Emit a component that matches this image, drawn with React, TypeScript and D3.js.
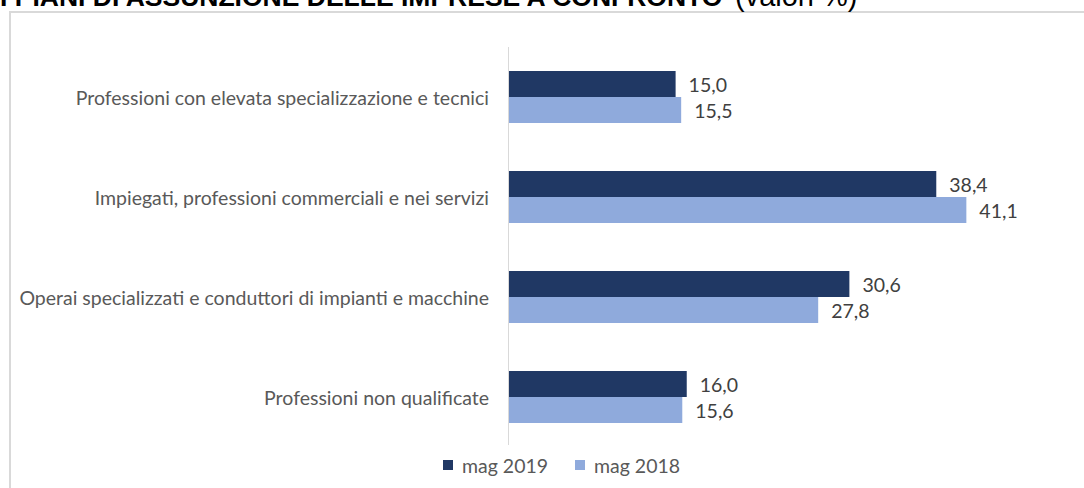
import React from "react";
import * as d3 from "d3";

const categories = [
  "Professioni con elevata specializzazione e tecnici",
  "Impiegati, professioni commerciali e nei servizi",
  "Operai specializzati e conduttori di impianti e macchine",
  "Professioni non qualificate",
];
const seriesNames = ["mag 2019", "mag 2018"];
const values2019 = [15.0, 38.4, 30.6, 16.0];
const values2018 = [15.5, 41.1, 27.8, 15.6];
const colors = ["#203864", "#8faadc"];

const W = 1084;
const H = 488;
const FONT = "Lato, 'Open Sans', sans-serif";
const FS = 19.5;

export default function App() {
  const x = d3.scaleLinear().domain([0, 50]).range([508.5, 508.5 + 557]);
  const y = d3
    .scaleBand<string>()
    .domain(categories)
    .range([47, 447])
    .paddingInner(0.48)
    .paddingOuter(0.24);
  const inner = d3.scaleBand<string>().domain(seriesNames).range([0, y.bandwidth()]);
  const series = [values2019, values2018];
  const fmt = (v: number) => d3.format(".1f")(v).replace(".", ",");

  return (
    <div style={{ position: "fixed", left: 0, top: 0, width: W, height: H, background: "#fff" }}>
      <svg width={W} height={H} style={{ display: "block" }}>
        <rect x={0} y={0} width={W} height={H} fill="#fff" />
        <path d={`M10,${H + 10} V12 H${W + 10}`} fill="none" stroke="#d9d9d9" strokeWidth={2} />
        <text x={0} y={6} fontFamily="'Liberation Sans', Arial, sans-serif" fill="#000">
          <tspan fontWeight="bold" fontSize={26.5}>I PIANI DI ASSUNZIONE DELLE IMPRESE A CONFRONTO</tspan>
          <tspan x={735} fontSize={29}>(valori %)</tspan>
        </text>
        {categories.map((c, i) => (
          <g key={c}>
            <text
              x={489}
              y={(y(c) as number) + y.bandwidth() / 2}
              textAnchor="end"
              dominantBaseline="central"
              fontFamily={FONT}
              fontSize={FS}
              fill="#595959"
            >
              {c}
            </text>
            {series.map((vals, s) => {
              const by = (y(c) as number) + (inner(seriesNames[s]) as number);
              return (
                <g key={s}>
                  <rect
                    x={x(0)}
                    y={by}
                    width={x(vals[i]) - x(0)}
                    height={inner.bandwidth()}
                    fill={colors[s]}
                  />
                  <text
                    x={x(vals[i]) + 13}
                    y={by + inner.bandwidth() / 2}
                    dominantBaseline="central"
                    fontFamily={FONT}
                    fontSize={FS}
                    fill="#404040"
                  >
                    {fmt(vals[i])}
                  </text>
                </g>
              );
            })}
          </g>
        ))}
        <line x1={x(0)} x2={x(0)} y1={47} y2={445} stroke="#d9d9d9" strokeWidth={1} />
        {seriesNames.map((n, s) => {
          const lx = [443, 575][s];
          return (
            <g key={n}>
              <rect x={lx} y={460} width={10} height={10} fill={colors[s]} />
              <text x={lx + 19} y={465} dominantBaseline="central" fontFamily={FONT} fontSize={FS} fill="#595959">
                {n}
              </text>
            </g>
          );
        })}
      </svg>
    </div>
  );
}
